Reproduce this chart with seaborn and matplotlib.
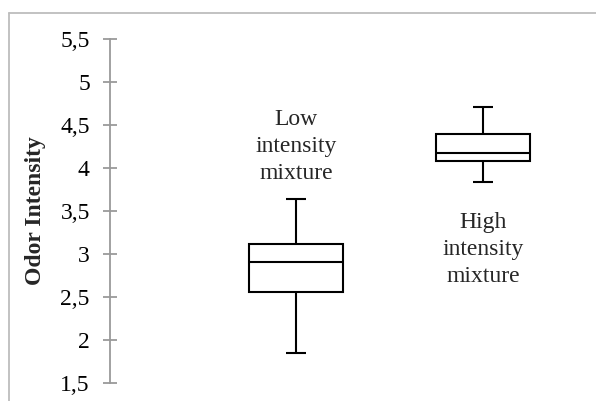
import numpy as np
import pandas as pd
import seaborn as sns
from matplotlib import pyplot as plt
from matplotlib.lines import Line2D

sns.set_style("white")
plt.rcParams['font.family'] = ['Liberation Serif', 'DejaVu Serif']

# five-number summaries (min, q1, median, q3, max)
low_vals = [1.85, 2.55, 2.90, 3.12, 3.64]
high_vals = [3.83, 4.08, 4.17, 4.40, 4.71]
groups = ['Low intensity mixture', 'High intensity mixture']
label_y = [4.25, 3.05]
yticks = [1.5, 2, 2.5, 3, 3.5, 4, 4.5, 5, 5.5]

df = pd.DataFrame({
    'group': [groups[0]] * len(low_vals) + [groups[1]] * len(high_vals),
    'value': low_vals + high_vals,
})

fig = plt.figure(figsize=(5.96, 4.01), dpi=100)
W, H = 596, 401
ax = fig.add_axes([110 / W, 1 - 382.7 / H, (W - 110) / W, (382.7 - 39) / H])

box_w = 0.5
sns.boxplot(data=df, x='group', y='value', ax=ax, width=box_w, whis=(0, 100),
            color='white', linecolor='black', linewidth=1.5, fill=True,
            showfliers=False)

# shrink the whisker caps
for ln in ax.lines:
    x = np.asarray(ln.get_xdata(), dtype=float)
    y = np.asarray(ln.get_ydata(), dtype=float)
    if len(x) == 2 and y[0] == y[1] and abs(x[1] - x[0]) < 0.9 * box_w:
        c = x.mean()
        ln.set_xdata([c - 0.054, c + 0.054])
    ln.set_solid_capstyle('butt')

ax.set_xlim(-186 / 187, 300 / 187)
ax.set_ylim(1.5, 5.5)
ax.set_yticks(yticks)
ax.set_yticklabels([f'{t:g}'.replace('.', ',') for t in yticks])
ax.set_xticks([])
ax.set_xlabel('')
ax.set_ylabel('Odor Intensity', fontsize=17, fontweight='bold')
ax.yaxis.set_label_coords(-0.132, 0.5)

for s in ['top', 'right', 'bottom']:
    ax.spines[s].set_visible(False)
ax.spines['left'].set_color('#9a9a9a')
ax.spines['left'].set_linewidth(1.3)
ax.tick_params(axis='y', left=True, direction='inout', length=10, width=1.3,
               color='#9a9a9a', labelsize=17, labelcolor='black', pad=9.5)

for i, g in enumerate(groups):
    ax.text(i, label_y[i], g.replace(' ', '\n'), ha='center', va='center',
            fontsize=17, linespacing=1.4)

# outer frame (top and left edges only visible)
fig.add_artist(Line2D([8.5 / W, 1], [1 - 12.5 / H] * 2, color='#bdbdbd', lw=1.3,
                      transform=fig.transFigure))
fig.add_artist(Line2D([8.5 / W] * 2, [0, 1 - 12.5 / H], color='#bdbdbd', lw=1.3,
                      transform=fig.transFigure))

fig.savefig('out.png', dpi=100)
